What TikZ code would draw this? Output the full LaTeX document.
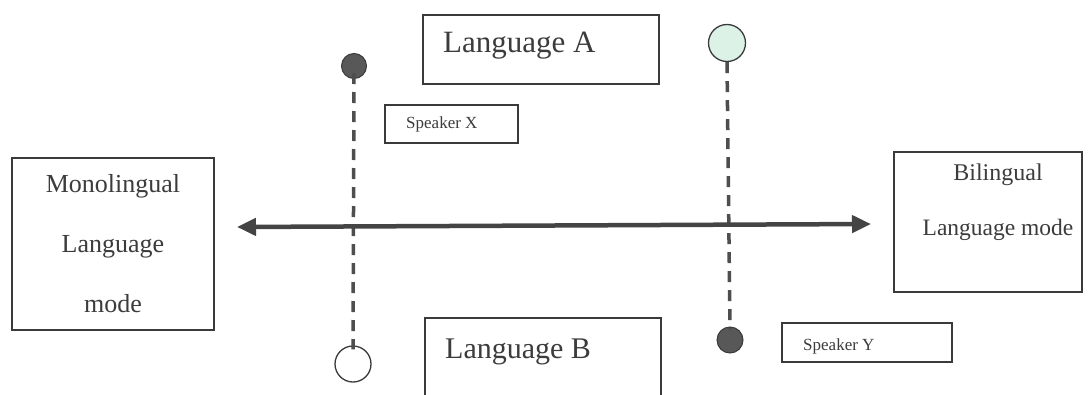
\documentclass[tikz,border=0pt]{standalone}
\usepackage{fontspec}
\setmainfont{Liberation Serif}
\usetikzlibrary{arrows.meta}
\definecolor{ink}{HTML}{3A3A3A}
\definecolor{txt}{HTML}{3C3C3C}
\definecolor{mint}{HTML}{DDF2E6}
\tikzset{
  box/.style={draw=ink, line width=1.3pt, inner sep=0pt},
  lbl/.style={text=txt, inner sep=0pt, anchor=west},
  dot/.style={circle, draw=ink, fill=ink!85, line width=1pt, inner sep=0pt},
  ring/.style={circle, draw=ink, fill=white, line width=1.3pt, inner sep=0pt},
  track/.style={draw=ink!90, line width=3.5pt, dash pattern=on 11pt off 8pt},
  axis/.style={draw=ink!95, line width=4.5pt, {Triangle[width=17pt,length=19pt]}-{Triangle[width=17pt,length=19pt]}},
}
\begin{document}
\begin{tikzpicture}[x=1pt,y=-1pt]
\clip (0,0) rectangle (1090,394);
\fill[white] (0,0) rectangle (1090,394);
% boxes
\node[box, minimum width=236pt, minimum height=69pt] (langA) at (541,49.5) {};
\node[lbl, font=\fontsize{31}{31}\selectfont] (langAt) at (443,46) {Language A};
\node[box, minimum width=236pt, minimum height=110pt] (langB) at (543,373) {};
\node[lbl, font=\fontsize{30}{30}\selectfont] (langBt) at (445,352) {Language B};
\node[box, minimum width=133pt, minimum height=38pt] (spx) at (451.5,124) {};
\node[lbl, font=\fontsize{17}{17}\selectfont] (spxt) at (406,124) {Speaker X};
\node[box, minimum width=170pt, minimum height=39pt] (spy) at (867,342.5) {};
\node[lbl, font=\fontsize{17}{17}\selectfont] (spyt) at (803,346) {Speaker Y};
\node[box, minimum width=202pt, minimum height=172pt, text=txt, align=center,
      font=\fontsize{26}{60}\selectfont] (mono) at (113,244) {Monolingual\\Language\\mode};
\node[box, minimum width=188pt, minimum height=140pt] (bil) at (988,222) {};
\node[text=txt, inner sep=0pt, font=\fontsize{24}{24}\selectfont] (bil1) at (998,175) {Bilingual};
\node[text=txt, inner sep=0pt, font=\fontsize{23.5}{24}\selectfont] (bil2) at (998,230) {Language mode};
% circles
\node[dot, minimum size=25pt] (xa) at (354,66) {};
\node[ring, minimum size=36pt] (xb) at (353,364) {};
\node[ring, fill=mint, minimum size=37pt] (ya) at (727,43) {};
\node[dot, minimum size=26pt] (yb) at (730,340) {};
% tracks
\draw[track] ([yshift=6pt]xa.south) -- ([yshift=-4pt]xb.north);
\draw[track] ([yshift=0pt]ya.south) -- ([yshift=-3pt]yb.north);
% axis
\coordinate (lend) at (237,227);
\coordinate (rend) at (871,224);
\draw[axis] (lend) -- (rend);
\end{tikzpicture}
\end{document}
